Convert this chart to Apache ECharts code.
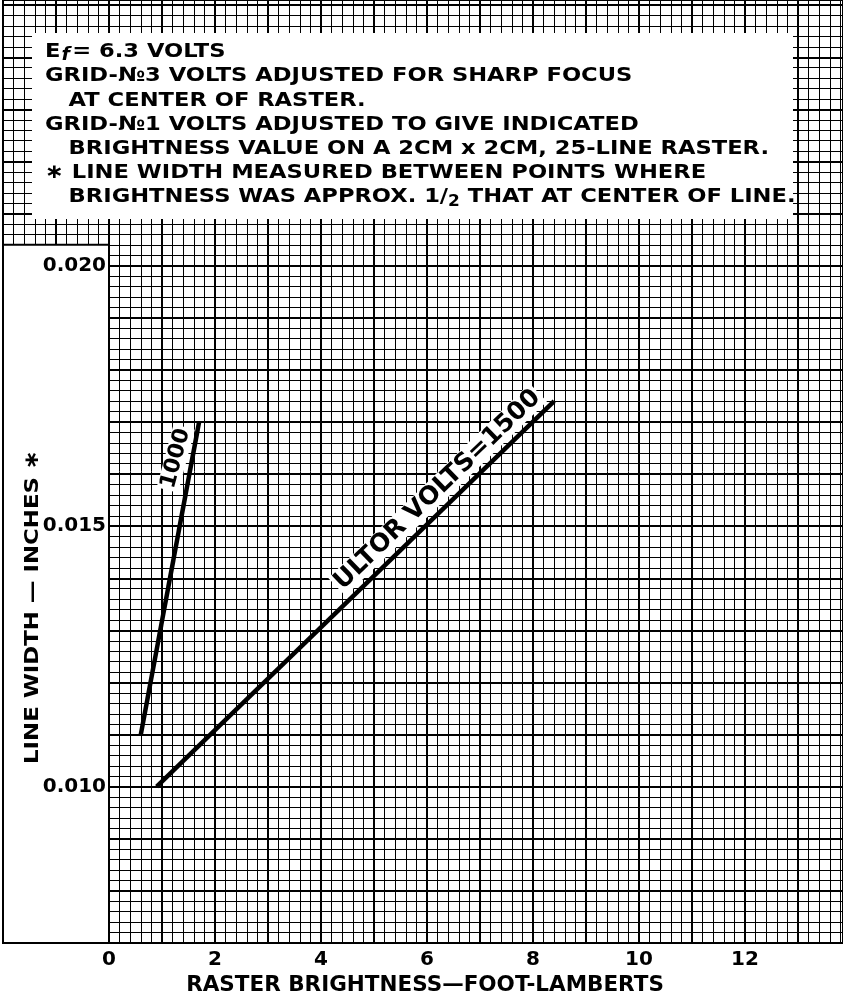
<!DOCTYPE html>
<html><head><meta charset="utf-8">
<script src="https://cdn.jsdelivr.net/npm/echarts@6/dist/echarts.min.js"></script>
<style>html,body{margin:0;padding:0;background:#fff}#c{width:843px;height:996px}</style>
</head><body><div id="c"></div>
<script>
// ---- data ----
const xTickLabels = [0, 2, 4, 6, 8, 10, 12];
const yTickLabels = [0.010, 0.015, 0.020];
const ultor1000X = [0.6, 1.7];
const ultor1000Y = [0.0110, 0.0170];
const ultor1500X = [0.9, 8.4];
const ultor1500Y = [0.0100, 0.0174];
const label1000At = [1.26, 0.0163];
const label1500At = [6.2, 0.0157];
const xTitle = 'RASTER BRIGHTNESS\u2014FOOT-LAMBERTS';
const yTitle = 'LINE WIDTH \u2014 INCHES \u2217';
const noteLines = [
  '{a|E}{f|f}{a|= 6.3 VOLTS}',
  'GRID-\u21163 VOLTS ADJUSTED FOR SHARP FOCUS',
  '   AT CENTER OF RASTER.',
  'GRID-\u21161 VOLTS ADJUSTED TO GIVE INDICATED',
  '   BRIGHTNESS VALUE ON A 2CM x 2CM, 25-LINE RASTER.',
  '\u2217 LINE WIDTH MEASURED BETWEEN POINTS WHERE',
  '   BRIGHTNESS WAS APPROX. 1/{s|2} THAT AT CENTER OF LINE.'
];

const FF = '"DejaVu Sans", sans-serif';
const chart = echarts.init(document.getElementById('c'), null, {renderer: 'canvas'});

function zip(xs, ys) { return xs.map((x, i) => [x, ys[i]]); }
const isInt = v => Math.abs(v - Math.round(v)) < 1e-6;

const gridLines = {
  splitLine: {show: true, lineStyle: {color: '#000', width: 2}},
  minorTick: {show: false, splitNumber: 5},
  minorSplitLine: {show: true, lineStyle: {color: '#000', width: 1}},
  axisTick: {show: false}
};
const noLines = {
  splitLine: {show: false}, minorSplitLine: {show: false}, minorTick: {show: false},
  axisTick: {show: false}, axisLine: {show: false}
};

const Y_MIN = 0.007, Y_MAX = 0.0251;

const option = {
  animation: false,
  backgroundColor: '#fff',
  grid: [
    {left: 109, right: 0, top: 0, bottom: 53, show: false, containLabel: false, outerBoundsMode: 'none'},
    {left: 3, width: 106, top: 0, bottom: 53, show: false, containLabel: false, outerBoundsMode: 'none'}
  ],
  xAxis: [
    Object.assign({
      type: 'value', gridIndex: 0, min: 0, max: 13.85, interval: 1, z: 0,
      axisLine: {show: true, onZero: false, lineStyle: {color: '#000', width: 2}},
      axisLabel: {
        show: true, margin: 7, color: '#000', fontFamily: FF, fontWeight: 'bold', fontSize: 20,
        formatter: v => (isInt(v) && xTickLabels.indexOf(Math.round(v)) >= 0) ? String(Math.round(v)) : ''
      },
      name: xTitle, nameLocation: 'middle', nameGap: 30,
      nameTextStyle: {color: '#000', fontFamily: FF, fontWeight: 'bold', fontSize: 21.5, padding: [0, 102, 0, 0]}
    }, gridLines),
    Object.assign({
      type: 'value', gridIndex: 1, min: -2, max: 0, interval: 1, z: 0,
      axisLine: {show: false}, axisLabel: {show: false}
    }, gridLines)
  ],
  yAxis: [
    Object.assign({
      type: 'value', gridIndex: 0, min: Y_MIN, max: Y_MAX, interval: 0.001, z: 0,
      axisLine: {show: true, onZero: false, lineStyle: {color: '#000', width: 2}},
      axisLabel: {show: false}
    }, gridLines),
    Object.assign({
      type: 'value', gridIndex: 1, min: Y_MIN, max: Y_MAX, interval: 0.001, z: 0,
      axisLine: {show: false}, axisLabel: {show: false}
    }, gridLines),
    Object.assign({
      type: 'value', gridIndex: 0, min: Y_MIN, max: Y_MAX, interval: 0.001, z: 5, position: 'left',
      axisLabel: {
        show: true, margin: 3, color: '#000', fontFamily: FF, fontWeight: 'bold', fontSize: 20,
        formatter: v => {
          if (!isInt(v * 1000)) return '';
          const hit = yTickLabels.find(t => Math.abs(t - v) < 1e-7);
          return hit !== undefined ? hit.toFixed(3) : '';
        }
      }
    }, noLines)
  ],
  series: [
    {type: 'line', xAxisIndex: 0, yAxisIndex: 0, data: zip(ultor1000X, ultor1000Y), symbol: 'none',
     lineStyle: {color: '#000', width: 4.5}, z: 10, silent: true},
    {type: 'line', xAxisIndex: 0, yAxisIndex: 0, data: zip(ultor1500X, ultor1500Y), symbol: 'none',
     lineStyle: {color: '#000', width: 4.5}, z: 10, silent: true},
    {type: 'scatter', xAxisIndex: 0, yAxisIndex: 0, data: [label1000At], symbolSize: 0, z: 11, silent: true,
     itemStyle: {opacity: 1},
     label: {show: true, position: 'inside', formatter: '1000', rotate: 75, color: '#000', textBorderWidth: 0,
             opacity: 1, fontFamily: FF, fontWeight: 'bold', fontSize: 22, backgroundColor: '#fff', padding: [0, 2]}},
    {type: 'scatter', xAxisIndex: 0, yAxisIndex: 0, data: [label1500At], symbolSize: 0, z: 11, silent: true,
     itemStyle: {opacity: 1},
     label: {show: true, position: 'inside', formatter: 'ULTOR VOLTS=1500', rotate: 44, color: '#000', textBorderWidth: 0,
             opacity: 1, fontFamily: FF, fontWeight: 'bold', fontSize: 25, backgroundColor: '#fff', padding: [0, 2]}}
  ]
};
chart.setOption(option);

// White left panel (x from -2 to 0, below y = 0.0204), corners taken from the axes
const pTL = chart.convertToPixel({gridIndex: 1}, [-2, 0.0204]);
const pBR = chart.convertToPixel({gridIndex: 1}, [0, Y_MIN]);

const noteFont = 'bold 20px ' + FF;
const noteY0 = 52, noteDy = 24.2;
const noteEls = noteLines.map((t, i) => ({
  type: 'text', z: 3, silent: true, x: 45, y: noteY0 + i * noteDy, scaleX: 1.13,
  style: {
    text: t, x: 0, y: 0, font: noteFont, fill: '#000',
    textVerticalAlign: 'middle',
    rich: {
      a: {font: noteFont, fill: '#000'},
      f: {font: 'italic bold 17px ' + FF, fill: '#000', padding: [8, 2, 0, 1]},
      s: {font: 'bold 15px ' + FF, fill: '#000', padding: [10, 0, 0, 0]}
    }
  }
}));

chart.setOption({
  graphic: [
    {type: 'rect', z: 2, silent: true,
     shape: {x: pTL[0], y: pTL[1], width: pBR[0] - pTL[0], height: pBR[1] - pTL[1]},
     style: {fill: '#fff', stroke: '#000', lineWidth: 2}},
    {type: 'rect', z: 2, silent: true,
     shape: {x: 32, y: 33, width: 761, height: 186},
     style: {fill: '#fff'}},
    ...noteEls,
    {type: 'text', z: 3, silent: true, x: 33, y: 607, rotation: Math.PI / 2, scaleX: 1.14,
     style: {text: yTitle, x: 0, y: 0, font: 'bold 20px ' + FF, fill: '#000',
             textAlign: 'center', textVerticalAlign: 'middle'}}
  ]
});
</script></body></html>
